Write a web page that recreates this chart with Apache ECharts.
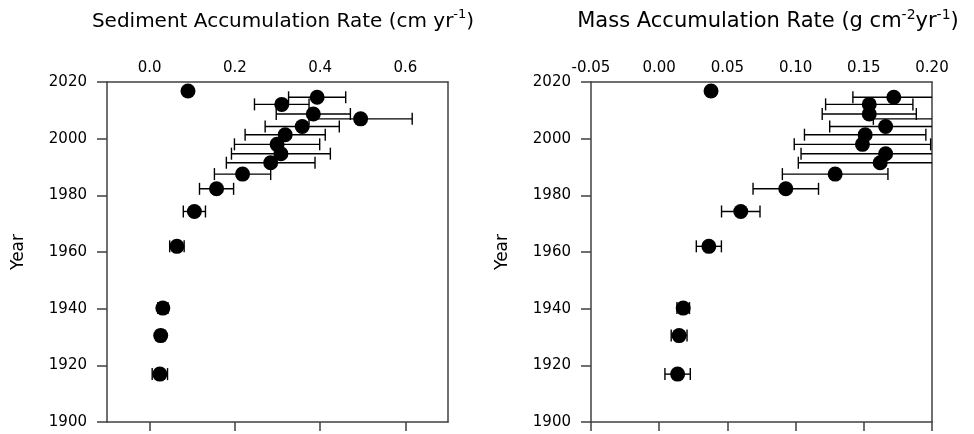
<!DOCTYPE html>
<html>
<head>
<meta charset="utf-8">
<script src="https://cdn.jsdelivr.net/npm/echarts@6/dist/echarts.min.js"></script>
<style>
html,body{margin:0;padding:0;background:#fff;}
#c{width:974px;height:434px;}
</style>
</head>
<body>
<div id="c"></div>
<script>
// ---- data ----
const years = [2016.8, 2014.6, 2012.1, 2008.7, 2007.0, 2004.3, 2001.4, 1998.0, 1994.7, 1991.5, 1987.5, 1982.3, 1974.3, 1962.0, 1940.2, 1930.5, 1916.9];
const sar    = [0.090, 0.393, 0.310, 0.384, 0.495, 0.358, 0.318, 0.299, 0.308, 0.284, 0.218, 0.157, 0.105, 0.064, 0.031, 0.026, 0.024];
const sarErr = [0, 0.067, 0.064, 0.087, 0.121, 0.087, 0.094, 0.100, 0.116, 0.104, 0.066, 0.040, 0.026, 0.017, 0.012, 0.010, 0.018];
const mar    = [0.038, 0.172, 0.154, 0.154, 0.215, 0.166, 0.151, 0.149, 0.166, 0.162, 0.129, 0.0928, 0.0598, 0.0364, 0.0176, 0.0146, 0.0135];
const marErr = [0, 0.030, 0.032, 0.0345, 0.058, 0.041, 0.0445, 0.050, 0.062, 0.060, 0.0387, 0.024, 0.0141, 0.0092, 0.0046, 0.0058, 0.0093];
const sarTicks = [0, 0.2, 0.4, 0.6];
const yearTicks = [1900, 1920, 1940, 1960, 1980, 2000, 2020];

const FONT = 'DejaVu Sans';
const AX = '#404040';

const chart = echarts.init(document.getElementById('c'), null, {renderer: 'canvas'});

function errBar(params, api) {
  const v = api.value(0), yr = api.value(1), e = api.value(2);
  if (!e) return;
  const cs = params.coordSys;
  const p1 = api.coord([v - e, yr]);
  const p2 = api.coord([v + e, yr]);
  const xmin = cs.x, xmax = cs.x + cs.width;
  const h = 6;
  const style = {stroke: '#000', lineWidth: 1.4};
  const x1 = Math.max(p1[0], xmin), x2 = Math.min(p2[0], xmax);
  const ch = [{type: 'line', shape: {x1: x1, y1: p1[1], x2: x2, y2: p2[1]}, style: style}];
  if (p1[0] >= xmin - 0.5) ch.push({type: 'line', shape: {x1: p1[0], y1: p1[1] - h, x2: p1[0], y2: p1[1] + h}, style: style});
  if (p2[0] <= xmax + 0.5) ch.push({type: 'line', shape: {x1: p2[0], y1: p2[1] - h, x2: p2[0], y2: p2[1] + h}, style: style});
  return {type: 'group', children: ch};
}

const lineStyle = {color: AX, width: 1.5};
const labelStyle = {fontFamily: FONT, fontSize: 15, color: '#000'};

function xAxes(gi, min, max, interval, fmt, tickVals) {
  const top = {
    type: 'value', gridIndex: gi, position: 'top', min: min, max: max, interval: interval,
    axisLine: {show: true, onZero: false, lineStyle: lineStyle},
    axisTick: {show: false},
    splitLine: {show: false},
    axisLabel: Object.assign({show: true, margin: 6, formatter: fmt}, labelStyle)
  };
  const bottom = {
    type: 'value', gridIndex: gi, position: 'bottom', min: min, max: max, interval: interval,
    axisLine: {show: true, onZero: false, lineStyle: lineStyle},
    axisTick: {show: true, length: 9, lineStyle: lineStyle},
    splitLine: {show: false},
    axisLabel: {show: false}
  };
  if (tickVals) {
    top.axisLabel.customValues = tickVals;
    bottom.axisTick.customValues = tickVals;
  }
  return [top, bottom];
}

function yAxes(gi) {
  return [{
    type: 'value', gridIndex: gi, position: 'left', min: 1900, max: 2020, interval: 20,
    name: 'Year', nameLocation: 'middle', nameGap: 80,
    nameTextStyle: {fontFamily: FONT, fontSize: 17, color: '#000'},
    axisLine: {show: true, onZero: false, lineStyle: lineStyle},
    axisTick: {show: true, length: 10, lineStyle: lineStyle, customValues: yearTicks},
    splitLine: {show: false},
    axisLabel: Object.assign({margin: 20, customValues: yearTicks, formatter: v => String(Math.round(v))}, labelStyle)
  }, {
    type: 'value', gridIndex: gi, position: 'right', min: 1900, max: 2020, interval: 20,
    axisLine: {show: true, onZero: false, lineStyle: lineStyle},
    axisTick: {show: false}, axisLabel: {show: false}, splitLine: {show: false}
  }];
}

const fmtSar = v => (Math.round(v * 10) % 2 === 0 ? v.toFixed(1) : '');
const fmtMar = v => v.toFixed(2);

function titleRich(size) {
  return {
    s: {fontFamily: FONT, fontSize: Math.round(size * 0.65), verticalAlign: 'top', lineHeight: 22, color: '#000'},
    a: {fontFamily: FONT, fontSize: size, lineHeight: 27, color: '#000'}
  };
}

chart.setOption({
  animation: false,
  backgroundColor: '#fff',
  grid: [
    {left: 107, top: 82, width: 341, height: 340},
    {left: 591, top: 82, width: 341, height: 340}
  ],
  xAxis: [].concat(
    xAxes(0, -0.1, 0.7, 0.1, fmtSar, sarTicks),
    xAxes(1, -0.05, 0.2, 0.05, fmtMar, null)
  ),
  yAxis: [].concat(yAxes(0), yAxes(1)),
  graphic: [
    {type: 'text', x: 283, y: 22, style: {text: '{a|Sediment Accumulation Rate (cm yr}{s|-1}{a|)}', rich: titleRich(20), align: 'center', verticalAlign: 'middle'}},
    {type: 'text', x: 768, y: 22, style: {text: '{a|Mass Accumulation Rate (g cm}{s|-2}{a|yr}{s|-1}{a|)}', rich: titleRich(21), align: 'center', verticalAlign: 'middle'}}
  ],
  series: [
    {type: 'custom', xAxisIndex: 0, yAxisIndex: 0, renderItem: errBar, clip: true,
     encode: {x: 0, y: 1}, data: years.map((y, i) => [sar[i], y, sarErr[i]]), z: 2},
    {type: 'scatter', xAxisIndex: 0, yAxisIndex: 0, symbol: 'circle', symbolSize: 15, clip: true,
     itemStyle: {color: '#000', opacity: 1}, data: years.map((y, i) => [sar[i], y]), z: 3},
    {type: 'custom', xAxisIndex: 2, yAxisIndex: 2, renderItem: errBar, clip: true,
     encode: {x: 0, y: 1}, data: years.map((y, i) => [mar[i], y, marErr[i]]), z: 2},
    {type: 'scatter', xAxisIndex: 2, yAxisIndex: 2, symbol: 'circle', symbolSize: 15, clip: true,
     itemStyle: {color: '#000', opacity: 1}, data: years.map((y, i) => [mar[i], y]), z: 3}
  ]
});
</script>
</body>
</html>
